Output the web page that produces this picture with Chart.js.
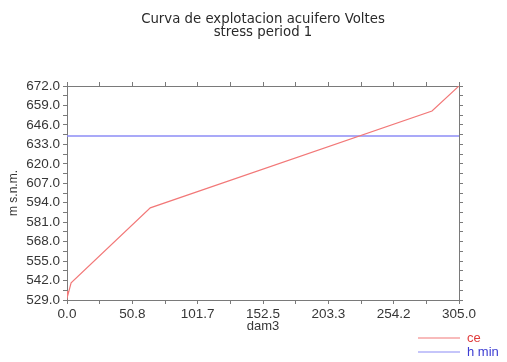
<!DOCTYPE html>
<html>
<head>
<meta charset="utf-8">
<script src="https://cdn.jsdelivr.net/npm/chart.js@4/dist/chart.umd.min.js"></script>
<style>
  html, body { margin: 0; padding: 0; background: #ffffff; }
  #wrap { width: 507px; height: 362px; }
</style>
</head>
<body>
<div id="wrap"><canvas id="c" width="507" height="362"></canvas></div>
<script>
// Exploitation curve of the Voltes aquifer, stress period 1
const titleLines = ['Curva de explotacion acuifero Voltes', 'stress period 1'];
const xAxisTitle = 'dam3';
const yAxisTitle = 'm s.n.m.';

// volume extracted (dam3) vs head (m a.s.l.)
const ceVolume = [0, 0.5, 3.2, 64.8, 284.0, 305.0];
const ceHead   = [535.0, 531.8, 540.5, 590.6, 655.3, 672.0];

// minimum allowed head
const hMinVolume = [0, 305.0];
const hMinHead   = [638.6, 638.6];

const seriesLabels = ['ce', 'h min'];

// axis tick values (labelled ones; a half step is added between them)
const xTickLabels = [0.0, 50.8, 101.7, 152.5, 203.3, 254.2, 305.0];
const yTickLabels = [529.0, 542.0, 555.0, 568.0, 581.0, 594.0, 607.0, 620.0, 633.0, 646.0, 659.0, 672.0];

const xMin = 0, xMax = 305.0;
const yMin = 529.0, yMax = 672.0;

function withHalfSteps(labels) {
  const out = [];
  for (let i = 0; i < labels.length; i++) {
    out.push({ value: labels[i], major: true });
    if (i < labels.length - 1) out.push({ value: (labels[i] + labels[i + 1]) / 2, major: false });
  }
  return out;
}

const toPoints = (xs, ys) => xs.map((x, i) => ({ x, y: ys[i] }));

const axisGray = '#7a7a7a';
const labelGray = '#363636';
const tickFont = { family: '"Liberation Sans", Arial, sans-serif', size: 13.5 };

function sideGrid() {
  return { drawOnChartArea: false, drawTicks: true, tickLength: 4, tickColor: axisGray, tickWidth: 1 };
}

const legendBox = {
  id: 'legendBox',
  afterDraw(chart, args, opts) {
    const ctx = chart.ctx;
    ctx.save();
    ctx.font = '13px "Liberation Sans", Arial, sans-serif';
    ctx.textBaseline = 'middle';
    chart.data.datasets.forEach((ds, i) => {
      const y = opts.top + i * opts.rowGap;
      ctx.strokeStyle = ds.borderColor;
      ctx.lineWidth = 1.2;
      ctx.beginPath();
      ctx.moveTo(opts.lineStart, y);
      ctx.lineTo(opts.lineEnd, y);
      ctx.stroke();
      ctx.fillStyle = opts.textColors[i];
      ctx.fillText(ds.label, opts.textX, y);
    });
    ctx.restore();
  }
};

new Chart(document.getElementById('c'), {
  type: 'line',
  data: {
    datasets: [
      {
        label: seriesLabels[0],
        data: toPoints(ceVolume, ceHead),
        borderColor: '#f27878',
        borderWidth: 1.2,
        pointRadius: 0,
        tension: 0,
        xAxisID: 'x', yAxisID: 'y'
      },
      {
        label: seriesLabels[1],
        data: toPoints(hMinVolume, hMinHead),
        borderColor: '#8c8cf6',
        borderWidth: 1.4,
        pointRadius: 0,
        tension: 0,
        xAxisID: 'x', yAxisID: 'y'
      }
    ]
  },
  options: {
    responsive: false,
    animation: false,
    events: [],
    layout: { padding: { top: 0, left: 0, right: 0, bottom: 28 } },
    plugins: {
      legend: { display: false },
      tooltip: { enabled: false },
      title: {
        display: true,
        fullSize: false,
        text: titleLines,
        color: '#2a2a2a',
        font: { family: '"DejaVu Sans", sans-serif', size: 13.3, weight: 'normal', lineHeight: 0.95 },
        padding: { top: 13.5, bottom: 0 }
      },
      legendBox: {
        top: 338, rowGap: 14, lineStart: 418, lineEnd: 460, textX: 467,
        textColors: ['#e03c3c', '#3c3cd2']
      }
    },
    scales: {
      x: {
        type: 'linear', position: 'bottom', min: xMin, max: xMax,
        afterBuildTicks: s => { s.ticks = withHalfSteps(xTickLabels); },
        afterFit: s => { s.height = 34; },
        ticks: {
          autoSkip: false, maxRotation: 0, padding: 2, color: labelGray, font: tickFont,
          callback: (v, i, t) => t[i].major ? Number(v).toFixed(1) : ''
        },
        grid: sideGrid(),
        border: { display: true, color: axisGray, width: 1 },
        title: {
          display: true, text: xAxisTitle, color: labelGray,
          font: { family: '"Liberation Sans", Arial, sans-serif', size: 13, lineHeight: 1.2 },
          padding: { top: 0, bottom: 0 }
        }
      },
      x2: {
        type: 'linear', position: 'top', min: xMin, max: xMax,
        afterBuildTicks: s => { s.ticks = withHalfSteps(xTickLabels); },
        afterFit: s => { s.height = 86 - (13.5 + 2 * 13.3 * 0.95); },
        ticks: { display: false },
        grid: sideGrid(),
        border: { display: true, color: axisGray, width: 1 }
      },
      y: {
        type: 'linear', position: 'left', min: yMin, max: yMax,
        afterBuildTicks: s => { s.ticks = withHalfSteps(yTickLabels); },
        afterFit: s => { s.width = 67; },
        ticks: {
          autoSkip: false, padding: 3, color: labelGray, font: tickFont,
          callback: (v, i, t) => t[i].major ? Number(v).toFixed(1) : ''
        },
        grid: sideGrid(),
        border: { display: true, color: axisGray, width: 1 },
        title: {
          display: true, text: yAxisTitle, color: labelGray,
          font: { family: '"Liberation Sans", Arial, sans-serif', size: 12, lineHeight: 1.2 },
          padding: { top: 6, bottom: 0 }
        }
      },
      y2: {
        type: 'linear', position: 'right', min: yMin, max: yMax,
        afterBuildTicks: s => { s.ticks = withHalfSteps(yTickLabels); },
        afterFit: s => { s.width = 48; },
        ticks: { display: false },
        grid: sideGrid(),
        border: { display: true, color: axisGray, width: 1 }
      }
    }
  },
  plugins: [legendBox]
});
</script>
</body>
</html>
